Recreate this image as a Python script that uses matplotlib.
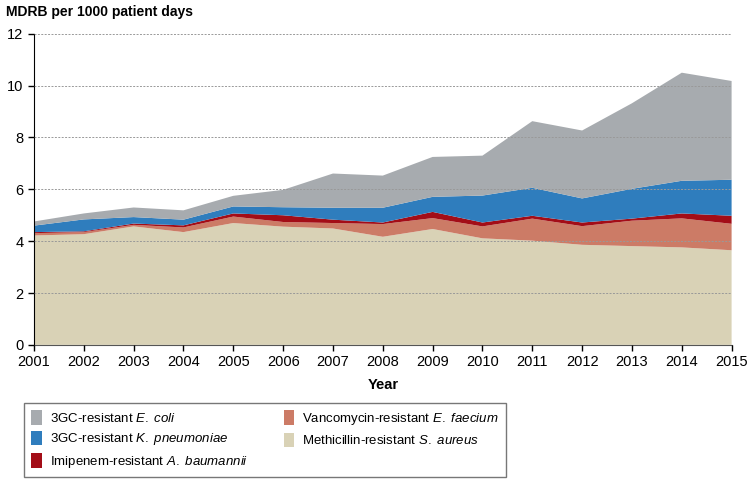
import numpy as np
import matplotlib
matplotlib.use("Agg")
import matplotlib.pyplot as plt
from matplotlib.font_manager import findfont, FontProperties

# font: try condensed look first
fam = "Liberation Sans Narrow"
try:
    findfont(FontProperties(family=fam), fallback_to_default=False)
except Exception:
    fam = "Liberation Sans"
plt.rcParams['font.family'] = [fam, 'DejaVu Sans']
plt.rcParams['mathtext.fontset'] = 'custom'
plt.rcParams['mathtext.rm'] = fam
plt.rcParams['mathtext.it'] = fam + ':italic'

# datos
years = np.arange(2001, 2016)
mrsa = [4.22, 4.27, 4.57, 4.35, 4.70, 4.56, 4.49, 4.17, 4.47, 4.11, 4.02, 3.86, 3.81, 3.76, 3.65]
vre = [0.09, 0.08, 0.06, 0.18, 0.25, 0.18, 0.21, 0.49, 0.42, 0.46, 0.85, 0.72, 0.98, 1.12, 1.02]
imi = [0.04, 0.03, 0.05, 0.08, 0.12, 0.26, 0.13, 0.06, 0.24, 0.15, 0.11, 0.14, 0.08, 0.19, 0.31]
kpn = [0.25, 0.46, 0.25, 0.22, 0.27, 0.31, 0.46, 0.57, 0.58, 1.04, 1.08, 0.93, 1.15, 1.26, 1.39]
eco = [0.16, 0.23, 0.37, 0.36, 0.41, 0.67, 1.32, 1.24, 1.54, 1.54, 2.57, 2.62, 3.30, 4.17, 3.81]

labels = [r"Methicillin-resistant $\mathit{S.\ aureus}$",
          r"Vancomycin-resistant $\mathit{E.\ faecium}$",
          r"Imipenem-resistant $\mathit{A.\ baumannii}$",
          r"3GC-resistant $\mathit{K.\ pneumoniae}$",
          r"3GC-resistant $\mathit{E.\ coli}$"]
colors = ["#d9d2b6", "#cc7b66", "#a30d17", "#2f7dbd", "#a7abaf"]

fig = plt.figure(figsize=(7.55, 4.83), dpi=100)
ax = fig.add_axes([0.045, 0.286, 0.924, 0.644])

polys = ax.stackplot(years, mrsa, vre, imi, kpn, eco, colors=colors, labels=labels, linewidth=0)

ax.set_xlim(2001, 2015)
ax.set_ylim(0, 12)
ax.set_xticks(years)
ax.set_yticks(np.arange(0, 13, 2))
ax.tick_params(labelsize=10.5, length=4, width=1)
ax.yaxis.grid(True, linestyle=(0, (2, 1.5)), color="#999999", linewidth=0.7)
ax.set_axisbelow(False)
for s in ["top", "right"]:
    ax.spines[s].set_visible(False)
ax.spines["bottom"].set_color("#555555")

fig.text(0.008, 0.975, "MDRB per 1000 patient days", fontsize=10, fontweight="bold", va="center")
fig.text(0.507, 0.203, "Year", fontsize=10.5, fontweight="bold", ha="center", va="center")

# leyenda en el orden de la imagen: E. coli, K. pneumoniae, A. baumannii | E. faecium, S. aureus
h = polys[::-1]
lab = labels[::-1]
leg = fig.legend(h, lab,
                 loc="lower left", bbox_to_anchor=(0.032, 0.012, 0.638, 0.151),
                 mode="expand", ncol=2, fontsize=9.5, frameon=True, fancybox=False,
                 edgecolor="#555555", handlelength=0.8, handleheight=1.3,
                 labelspacing=0.45, borderpad=0.55, handletextpad=0.6,
                 borderaxespad=0, columnspacing=5.0)
leg.get_frame().set_linewidth(1)

plt.savefig("out.png", dpi=100)
